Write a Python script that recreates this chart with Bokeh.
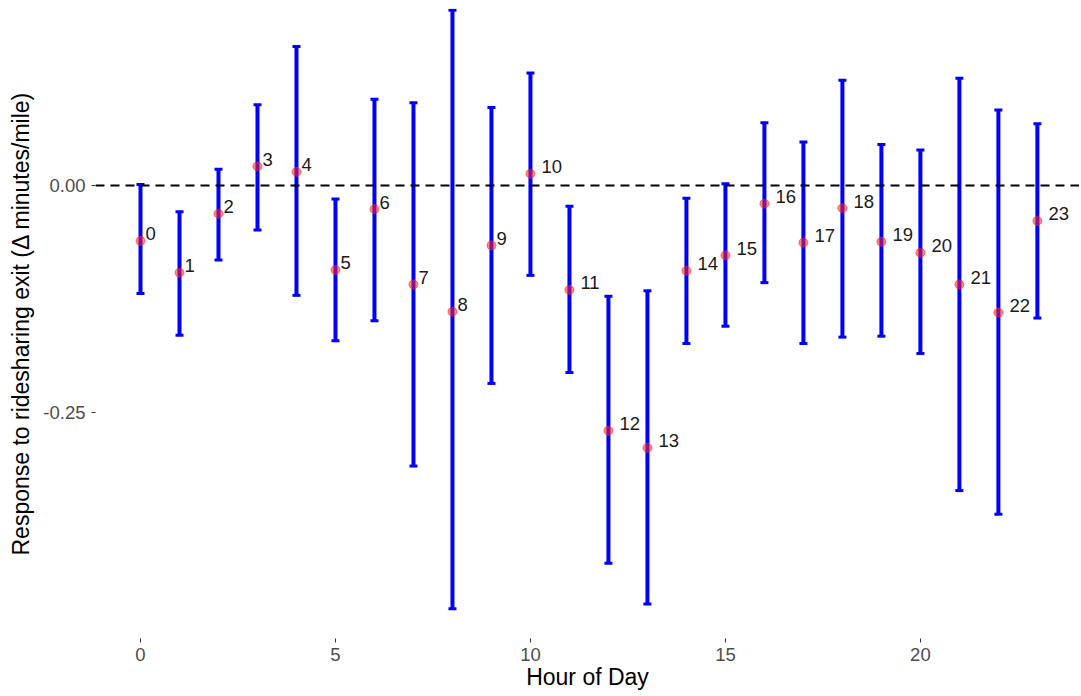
from bokeh.plotting import figure
from bokeh.models import ColumnDataSource, Whisker, TeeHead, Span, FixedTicker, PrintfTickFormatter, Range1d
from bokeh.core.properties import value
from bokeh.embed import file_html
from bokeh.resources import INLINE

hours = list(range(24))
estimate = [-0.061, -0.096, -0.031, 0.021, 0.015, -0.093, -0.026, -0.109, -0.139, -0.066,
            0.013, -0.115, -0.270, -0.289, -0.094, -0.077, -0.020, -0.063, -0.025, -0.062,
            -0.074, -0.109, -0.140, -0.039]
upper = [0.001, -0.029, 0.018, 0.089, 0.153, -0.015, 0.095, 0.091, 0.193, 0.086,
         0.124, -0.023, -0.122, -0.116, -0.014, 0.002, 0.069, 0.048, 0.116, 0.045,
         0.039, 0.118, 0.083, 0.068]
lower = [-0.119, -0.165, -0.082, -0.049, -0.121, -0.171, -0.149, -0.309, -0.466, -0.218,
         -0.099, -0.206, -0.416, -0.461, -0.174, -0.155, -0.107, -0.174, -0.167, -0.166,
         -0.185, -0.336, -0.362, -0.146]
labels = [str(h) for h in hours]
x_ticks = [0, 5, 10, 15, 20]
y_ticks = [-0.25, 0.0]

FONT = "Liberation Sans"

src = ColumnDataSource(dict(
    x=hours, y=estimate, upper=upper, lower=lower, label=labels,
    xoff=[5 if len(s) == 1 else 11 for s in labels],
))

p = figure(width=1079, height=696, output_backend="svg", toolbar_location=None,
           x_range=Range1d(-1.154, 24.08), y_range=Range1d(-0.4989, 0.1949),
           min_border_left=95, min_border_right=0, min_border_top=8, min_border_bottom=58,
           background_fill_color="white", border_fill_color="white")
p.outline_line_color = None
p.xgrid.visible = False
p.ygrid.visible = False

p.add_layout(Span(location=0, dimension="width", line_color="black",
                  line_width=2, line_dash="9 6"))

w = Whisker(source=src, base="x", upper="upper", lower="lower", dimension="height",
            line_color="#0000FF", line_width=4,
            upper_head=TeeHead(size=8, line_color="#0000FF", line_width=3),
            lower_head=TeeHead(size=8, line_color="#0000FF", line_width=3))
p.add_layout(w)

p.scatter("x", "y", source=src, size=9, fill_color="#FF2020", fill_alpha=0.55,
          line_color="#FF2020", line_alpha=0.55, line_width=1)

p.text("x", "y", text="label", source=src, x_offset="xoff", y_offset=-7,
       text_font=value(FONT), text_font_size="18.5px", text_color="#1A1A1A",
       text_align="left", text_baseline="alphabetic")

for ax in (p.xaxis[0], p.yaxis[0]):
    ax.axis_line_color = None
    ax.major_tick_in = 0
    ax.major_tick_out = 4
    ax.major_tick_line_color = "#333333"
    ax.major_tick_line_width = 1
    ax.minor_tick_line_color = None
    ax.major_label_text_font = FONT
    ax.major_label_text_font_size = "18.5px"
    ax.major_label_text_color = "#4D4D4D"
    ax.axis_label_text_font = FONT
    ax.axis_label_text_font_size = "23px"
    ax.axis_label_text_font_style = "normal"
    ax.axis_label_text_color = "black"

p.xaxis.ticker = FixedTicker(ticks=x_ticks)
p.yaxis.ticker = FixedTicker(ticks=y_ticks)
p.yaxis.formatter = PrintfTickFormatter(format="%.2f")
p.xaxis.axis_label = "Hour of Day"
p.yaxis.axis_label = "Response to ridesharing exit (\u0394 minutes/mile)"
p.xaxis.major_label_standoff = 5
p.xaxis.axis_label_standoff = 0
p.yaxis.major_label_standoff = 6
p.yaxis.axis_label_standoff = 6

open("out.html", "w").write(file_html(p, INLINE))
